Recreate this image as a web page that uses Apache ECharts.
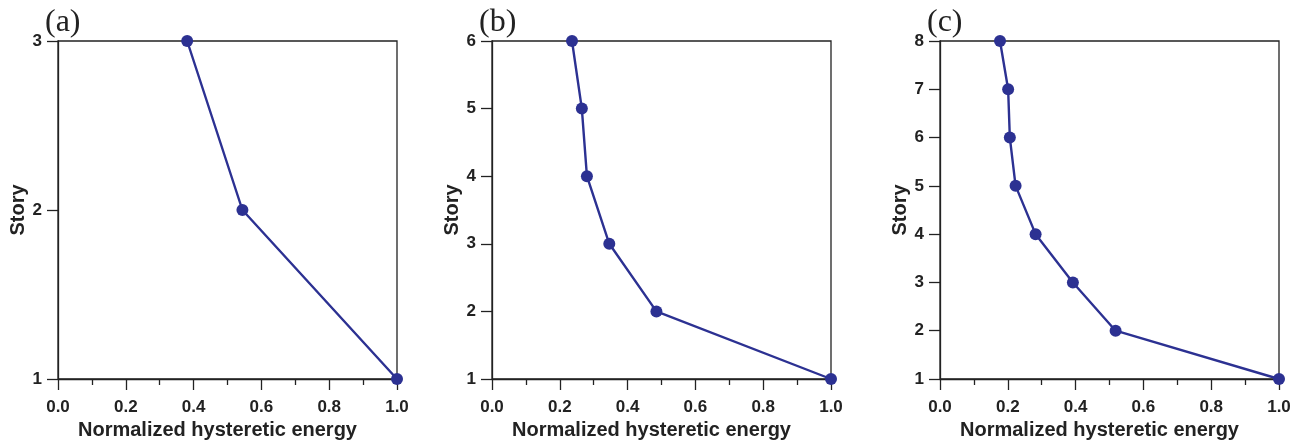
<!DOCTYPE html>
<html>
<head>
<meta charset="utf-8">
<script src="https://cdn.jsdelivr.net/npm/echarts@6/dist/echarts.min.js"></script>
<style>html,body{margin:0;padding:0;background:#fff;}#c{width:1299px;height:440px;}</style>
</head>
<body>
<div id="c"></div>
<script>
// Data
const panelLabels = ['(a)', '(b)', '(c)'];
const energyA = [1.0, 0.544, 0.381];
const storiesA = [1, 2, 3];
const energyB = [1.0, 0.485, 0.346, 0.280, 0.265, 0.236];
const storiesB = [1, 2, 3, 4, 5, 6];
const energyC = [1.0, 0.518, 0.392, 0.282, 0.223, 0.206, 0.201, 0.177];
const storiesC = [1, 2, 3, 4, 5, 6, 7, 8];
const xName = 'Normalized hysteretic energy';
const yName = 'Story';

const energies = [energyA, energyB, energyC];
const stories = [storiesA, storiesB, storiesC];
const maxStory = [3, 6, 8];
const gridLefts = [58, 492, 940];
const color = '#2c3192';
const font = '"Liberation Sans", Arial, sans-serif';

const chart = echarts.init(document.getElementById('c'));
const grids = [], xAxes = [], yAxes = [], series = [], titles = [];
for (let i = 0; i < 3; i++) {
  grids.push({left: gridLefts[i], top: 41, width: 339, height: 338, show: true,
    outerBoundsMode: 'none', containLabel: false,
    borderColor: '#222', borderWidth: 1.3, backgroundColor: 'transparent'});
  xAxes.push({type: 'value', gridIndex: i, min: 0, max: 1, interval: 0.2,
    name: xName, nameLocation: 'middle', nameGap: 35,
    nameTextStyle: {fontFamily: font, fontWeight: 'bold', fontSize: 20, color: '#222', padding: [0, 20, 0, 0]},
    axisLine: {show: true, onZero: false, lineStyle: {color: '#222', width: 1.3}},
    axisTick: {show: true, inside: false, length: 11, lineStyle: {color: '#222', width: 1.3}},
    minorTick: {show: true, splitNumber: 2, length: 6, lineStyle: {color: '#222', width: 1.3}},
    splitLine: {show: false},
    axisLabel: {margin: 20, fontFamily: font, fontWeight: 'bold', fontSize: 17, color: '#222',
      formatter: v => v.toFixed(1)}});
  yAxes.push({type: 'value', gridIndex: i, min: 1, max: maxStory[i], interval: 1,
    name: yName, nameLocation: 'middle', nameGap: 30,
    nameTextStyle: {fontFamily: font, fontWeight: 'bold', fontSize: 20, color: '#222'},
    axisLine: {show: true, onZero: false, lineStyle: {color: '#222', width: 1.3}},
    axisTick: {show: true, inside: false, length: 11, lineStyle: {color: '#222', width: 1.3}},
    splitLine: {show: false},
    axisLabel: {margin: 16, fontFamily: font, fontWeight: 'bold', fontSize: 17, color: '#222'}});
  series.push({type: 'line', xAxisIndex: i, yAxisIndex: i,
    data: energies[i].map((e, k) => [e, stories[i][k]]),
    symbol: 'circle', symbolSize: 12, clip: false,
    lineStyle: {color: color, width: 2.4}, itemStyle: {color: color}});
  titles.push({text: panelLabels[i], left: gridLefts[i] - 18, top: 2,
    textStyle: {fontFamily: '"Liberation Serif", "Times New Roman", serif', fontWeight: 'normal', fontSize: 32, color: '#222'}});
}
chart.setOption({animation: false, title: titles, grid: grids, xAxis: xAxes, yAxis: yAxes, series: series});
</script>
</body>
</html>
